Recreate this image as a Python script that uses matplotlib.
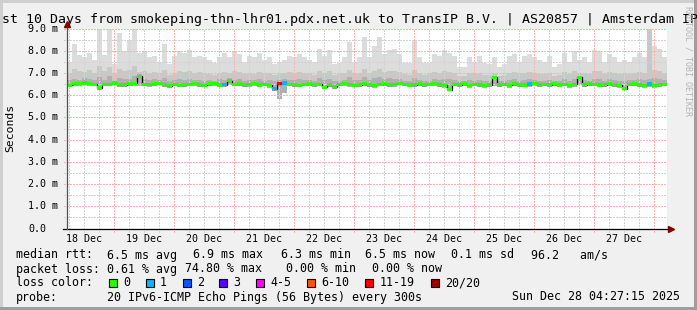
import numpy as np
import matplotlib
matplotlib.use('Agg')
import matplotlib.pyplot as plt
from matplotlib.patches import Rectangle

W, H = 697, 310
MONO = 'DejaVu Sans Mono'

title = ('st 10 Days from smokeping-thn-lhr01.pdx.net.uk to TransIP B.V. '
         '| AS20857 | Amsterdam IP')
y_label = 'Seconds'
watermark = 'RRDTOOL / TOBI OETIKER'

# time in hours since 18 Dec 00:00, one value per 2 h bin
t_start = 5.2
bin_hours = 2.0
day_labels = ['18 Dec', '19 Dec', '20 Dec', '21 Dec', '22 Dec',
              '23 Dec', '24 Dec', '25 Dec', '26 Dec', '27 Dec']
y_ticks = [0, 1, 2, 3, 4, 5, 6, 7, 8, 9]
y_tick_labels = ['0.0', '1.0 m', '2.0 m', '3.0 m', '4.0 m',
                 '5.0 m', '6.0 m', '7.0 m', '8.0 m', '9.0 m']

# median rtt (ms)
median_ms = [
    6.45, 6.52, 6.53, 6.55, 6.54, 6.50, 6.33, 6.49, 6.50, 6.55, 6.47, 6.48,
    6.51, 6.53, 6.85, 6.50, 6.49, 6.52, 6.54, 6.47, 6.43, 6.50, 6.45, 6.48,
    6.50, 6.53, 6.47, 6.45, 6.51, 6.53, 6.46, 6.48, 6.66, 6.50, 6.52, 6.47,
    6.49, 6.53, 6.46, 6.50, 6.44, 6.30, 6.52, 6.55, 6.50, 6.48, 6.45, 6.50,
    6.52, 6.48, 6.50, 6.36, 6.47, 6.38, 6.50, 6.53, 6.49, 6.45, 6.47, 6.51,
    6.48, 6.44, 6.50, 6.52, 6.47, 6.49, 6.54, 6.50, 6.46, 6.48, 6.52, 6.47,
    6.50, 6.53, 6.47, 6.44, 6.25, 6.50, 6.48, 6.52, 6.45, 6.50, 6.47, 6.44,
    6.48, 6.80, 6.47, 6.50, 6.45, 6.52, 6.48, 6.46, 6.50, 6.53, 6.47, 6.50,
    6.48, 6.51, 6.46, 6.50, 6.45, 6.49, 6.80, 6.47, 6.52, 6.50, 6.46, 6.48,
    6.51, 6.47, 6.44, 6.30, 6.50, 6.52, 6.47, 6.45, 6.50, 6.44, 6.48, 6.50,
]
# smoke: slowest ping
smoke_max = [
    7.50, 8.30, 7.80, 7.70, 7.90, 7.60, 9.00, 7.80, 9.00, 7.40, 8.80, 8.00,
    8.50, 9.00, 7.90, 8.00, 7.70, 7.75, 7.50, 8.30, 7.40, 7.75, 8.00, 7.90,
    8.05, 7.70, 7.75, 7.70, 7.60, 7.45, 7.70, 7.90, 7.70, 8.00, 7.85, 7.50,
    7.75, 7.70, 7.90, 7.60, 7.70, 7.40, 7.50, 7.60, 7.75, 7.70, 7.85, 7.70,
    7.60, 7.50, 8.10, 7.75, 8.05, 7.40, 7.45, 7.70, 8.40, 7.50, 7.70, 8.60,
    7.70, 8.20, 8.60, 7.85, 8.05, 8.10, 7.85, 7.45, 7.45, 8.50, 7.70, 7.45,
    7.45, 7.85, 7.75, 8.05, 7.90, 7.75, 7.25, 7.25, 7.70, 7.50, 7.75, 7.45,
    7.40, 7.70, 7.25, 7.40, 7.75, 7.85, 7.50, 7.75, 7.85, 7.70, 7.60, 7.50,
    7.75, 7.25, 7.40, 7.90, 7.50, 8.00, 7.60, 7.70, 7.50, 8.05, 8.00, 7.50,
    7.85, 7.70, 7.50, 7.60, 7.50, 7.70, 7.90, 7.70, 7.45, 8.20, 8.10, 7.70,
]
# smoke: upper middle pings
smoke_mid = [
    7.00, 7.20, 7.10, 7.05, 7.15, 7.00, 7.30, 7.10, 7.25, 6.95, 7.20, 7.10,
    7.15, 7.30, 7.05, 7.10, 7.00, 7.05, 6.95, 7.15, 6.90, 7.00, 7.10, 7.05,
    7.10, 7.00, 7.05, 7.00, 6.95, 6.90, 7.00, 7.05, 7.00, 7.10, 7.05, 6.95,
    7.00, 6.95, 7.05, 6.95, 7.00, 6.90, 6.95, 7.00, 7.05, 7.00, 7.05, 7.00,
    6.95, 6.90, 7.10, 7.00, 7.10, 6.90, 6.95, 7.00, 7.15, 6.95, 7.00, 7.20,
    7.00, 7.10, 7.20, 7.05, 7.10, 7.10, 7.05, 6.95, 6.90, 7.15, 7.00, 6.90,
    6.95, 7.05, 7.00, 7.10, 7.05, 7.00, 6.85, 6.85, 7.00, 6.95, 7.00, 6.90,
    6.90, 7.00, 6.85, 6.90, 7.00, 7.05, 6.95, 7.00, 7.05, 7.00, 6.95, 6.95,
    7.00, 6.85, 6.90, 7.05, 6.95, 7.10, 7.00, 7.00, 6.95, 7.10, 7.10, 6.95,
    7.05, 7.00, 6.95, 6.95, 6.95, 7.00, 7.05, 7.00, 9.00, 7.15, 7.10, 7.00,
]
# smoke: pings just above the median
smoke_dark = [
    6.68, 6.72, 6.70, 6.78, 6.72, 6.70, 6.82, 6.70, 6.85, 6.66, 6.78, 6.72,
    6.75, 6.85, 6.95, 6.72, 6.68, 6.72, 6.68, 6.78, 6.64, 6.70, 6.72, 6.70,
    6.75, 6.70, 6.68, 6.66, 6.70, 6.64, 6.72, 6.70, 6.78, 6.70, 6.74, 6.66,
    6.70, 6.68, 6.72, 6.66, 6.68, 6.64, 6.70, 6.72, 6.68, 6.70, 6.74, 6.70,
    6.68, 6.66, 6.76, 6.70, 6.74, 6.64, 6.66, 6.70, 6.80, 6.68, 6.70, 6.82,
    6.70, 6.76, 6.82, 6.72, 6.76, 6.74, 6.72, 6.66, 6.66, 6.78, 6.70, 6.64,
    6.66, 6.72, 6.70, 6.74, 6.72, 6.70, 6.62, 6.64, 6.70, 6.66, 6.70, 6.64,
    6.64, 6.86, 6.62, 6.66, 6.70, 6.72, 6.66, 6.70, 6.72, 6.70, 6.66, 6.66,
    6.70, 6.62, 6.66, 6.72, 6.66, 6.74, 6.86, 6.70, 6.66, 6.74, 6.72, 6.66,
    6.72, 6.68, 6.66, 6.66, 6.68, 6.70, 6.72, 6.68, 6.75, 6.78, 6.74, 6.70,
]
# smoke: fastest ping
smoke_low = [
    6.38, 6.42, 6.42, 6.44, 6.42, 6.40, 6.24, 6.40, 6.40, 6.44, 6.38, 6.38,
    6.40, 6.42, 6.42, 6.40, 6.38, 6.42, 6.44, 6.36, 6.34, 6.40, 6.36, 6.38,
    6.40, 6.42, 6.38, 6.36, 6.40, 6.42, 6.36, 6.38, 6.44, 6.40, 6.42, 6.36,
    6.38, 6.42, 6.36, 6.40, 6.34, 6.20, 5.85, 6.10, 6.40, 6.38, 6.36, 6.40,
    6.42, 6.38, 6.40, 6.28, 6.38, 6.30, 6.40, 6.42, 6.38, 6.36, 6.38, 6.40,
    6.38, 6.34, 6.40, 6.42, 6.36, 6.38, 6.44, 6.40, 6.36, 6.38, 6.42, 6.36,
    6.40, 6.42, 6.36, 6.34, 6.18, 6.40, 6.38, 6.42, 6.34, 6.40, 6.36, 6.34,
    6.38, 6.42, 6.36, 6.40, 6.34, 6.42, 6.38, 6.36, 6.38, 6.42, 6.36, 6.40,
    6.38, 6.40, 6.36, 6.40, 6.34, 6.38, 6.44, 6.36, 6.42, 6.40, 6.36, 6.38,
    6.40, 6.36, 6.34, 6.22, 6.40, 6.42, 6.36, 6.34, 6.38, 6.34, 6.38, 6.40,
]
# lost pings out of 20, per bin
loss_pings = [0] * 120
loss_pings[31] = 1
loss_pings[41] = 1
loss_pings[42] = 15
loss_pings[43] = 1
loss_pings[92] = 1
loss_pings[116] = 1

loss_labels = ['0', '1', '2', '3', '4-5', '6-10', '11-19', '20/20']
loss_colors = ['#26ff00', '#00b8ff', '#0059ff', '#5e00ff',
               '#ff00ff', '#ff5500', '#ff0000', '#a10000']
loss_upper = [0, 1, 2, 3, 5, 10, 19, 20]

rtt_stats = ['6.5 ms avg', '6.9 ms max', '6.3 ms min', '6.5 ms now',
             '0.1 ms sd', '96.2   am/s']
loss_stats = ['0.61 % avg', '74.80 % max', '0.00 % min', '0.00 % now']
probe_text = '20 IPv6-ICMP Echo Pings (56 Bytes) every 300s'
stamp = 'Sun Dec 28 04:27:15 2025'


def fx(px):
    return px / W


def fy(py):
    return 1 - py / H


fig = plt.figure(figsize=(W / 100, H / 100), dpi=100, facecolor='#f0f0f0')
ax = fig.add_axes([fx(67), fy(228.5), 600 / W, 200 / H])
ax.set_facecolor('white')

n = len(median_ms)
edges = t_start + bin_hours * np.arange(n + 1)
t_end = edges[-1]
ax.set_xlim(t_start, t_end)
ax.set_ylim(0, 9.0)
for s in ax.spines.values():
    s.set_visible(False)
ax.set_xticks([])
ax.set_yticks([])

# smoke
ax.stairs(smoke_max, edges, baseline=smoke_low, fill=True, color='#dcdcdc',
          lw=0, zorder=1)
ax.stairs(smoke_mid, edges, baseline=smoke_low, fill=True, color='#c8c8c8',
          lw=0, zorder=1.1)
ax.stairs(smoke_dark, edges, baseline=smoke_low, fill=True, color='#b0b0b0',
          lw=0, zorder=1.2)

# grid (dotted, 1px), drawn over the smoke
px_h = (t_end - t_start) / 600.0
px_v = 9.0 / 200.0
dot = (0, (1, 1))
minor_t = np.arange(6, t_end, 6)
minor_t = minor_t[(minor_t > t_start) & (minor_t % 24 != 0)]
major_t = np.arange(24, t_end, 24)
grid_kw = dict(lw=1.0, linestyles=dot, clip_on=False, antialiased=False)
ax.vlines(minor_t, -3 * px_v, 9.0, colors='#d2d2d2', zorder=2, **grid_kw)
ax.vlines(major_t, -3 * px_v, 9.0, colors='#ffb0b0', zorder=2.1, **grid_kw)
ax.hlines(np.arange(0.5, 9.0, 1.0), t_start - 3 * px_h, t_end,
          colors='#d2d2d2', zorder=2, **grid_kw)
ax.hlines(y_ticks[1:], t_start - 3 * px_h, t_end, colors='#ffb0b0',
          zorder=2.1, **grid_kw)

# median line and loss coloured band
ax.stairs(median_ms, edges, baseline=None, color='black', lw=0.9, zorder=3)
band = 0.07
med = np.array(median_ms)
ax.stairs(med + band, edges, baseline=med - band, fill=True,
          color=loss_colors[0], lw=0, zorder=4)
idx = np.searchsorted(loss_upper, loss_pings)
for i in range(n):
    if idx[i] > 0:
        ax.bar(edges[i], 2 * band, bottom=med[i] - band, width=bin_hours,
               align='edge', color=loss_colors[idx[i]], lw=0, zorder=4.1)

# axes with arrows
ax.plot([t_start - 4 * px_h, t_end + 2 * px_h], [0, 0], color='black',
        lw=0.9, zorder=5, clip_on=False)
ax.plot([t_start, t_start], [0, 9.0 + 5 * px_v], color='#505050', lw=0.9,
        zorder=5, clip_on=False)
ax.plot([t_end + 4 * px_h], [0], marker='>', color='#800000', ms=4,
        zorder=6, clip_on=False)
ax.plot([t_start], [9.0 + 5 * px_v], marker='^', color='#800000', ms=4,
        zorder=6, clip_on=False)

# tick labels
for v, lab in zip(y_ticks, y_tick_labels):
    xr = -8.5 / 600 if lab.endswith('m') else -20.5 / 600
    ax.text(xr, v, lab, transform=ax.get_yaxis_transform(), ha='right',
            va='center', family=MONO, fontsize=7.2, color='black')
for k, lab in enumerate(day_labels):
    ax.text(12 + 24 * k, -13.4 / 200, lab, transform=ax.get_xaxis_transform(),
            ha='center', va='baseline', family=MONO, fontsize=7.2,
            color='black')

# title, axis label, watermark
fig.text(fx(2), fy(22.5), title, ha='left', va='baseline', family=MONO,
         fontsize=9.5, color='black')
fig.text(fx(10), fy(128), y_label, rotation=90, ha='center', va='center',
         family=MONO, fontsize=8.2, color='black')
fig.text(fx(688), fy(61), watermark, rotation=-90, ha='center', va='center',
         family=MONO, fontsize=6, color='#b4b4b4')

# legend
lfs = 8.4
rows = [258.5, 272.5, 286.5, 300.5]
fig.text(fx(16), fy(rows[0]), 'median rtt:', family=MONO, fontsize=lfs,
         va='baseline')
for xp, s in zip([107, 193, 281, 365, 451, 531], rtt_stats):
    fig.text(fx(xp), fy(rows[0]), s, family=MONO, fontsize=lfs,
             va='baseline')
fig.text(fx(16), fy(rows[1]), 'packet loss:', family=MONO, fontsize=lfs,
         va='baseline')
for xp, s in zip([107, 185, 286, 372], loss_stats):
    fig.text(fx(xp), fy(rows[1]), s, family=MONO, fontsize=lfs,
             va='baseline')
fig.text(fx(16), fy(rows[2]), 'loss color:', family=MONO, fontsize=lfs,
         va='baseline')
for xp, lab, col in zip([108.5, 145.5, 182.5, 219, 255.5, 307, 365, 431],
                        loss_labels, loss_colors):
    fig.add_artist(Rectangle((fx(xp), fy(rows[2])), 8 / W, 8 / H,
                             transform=fig.transFigure, facecolor=col,
                             edgecolor='black', lw=0.8))
    fig.text(fx(xp + 14.5), fy(rows[2]), lab, family=MONO, fontsize=lfs,
             va='baseline')
fig.text(fx(16), fy(rows[3]), 'probe:', family=MONO, fontsize=lfs,
         va='baseline')
fig.text(fx(107), fy(rows[3]), probe_text, family=MONO, fontsize=lfs,
         va='baseline')
fig.text(fx(680), fy(rows[3]), stamp, family=MONO, fontsize=lfs,
         va='baseline', ha='right')

# 3d frame
for (x0, y0, w, h, c) in [(0, H - 3, W, 3, '#cfcfcf'), (0, 0, 3, H, '#cfcfcf'),
                          (0, 0, W, 3, '#9e9e9e'), (W - 3, 0, 3, H, '#9e9e9e')]:
    fig.add_artist(Rectangle((x0 / W, y0 / H), w / W, h / H,
                             transform=fig.transFigure, facecolor=c, lw=0))

fig.savefig('out.png', dpi=100, facecolor=fig.get_facecolor())
